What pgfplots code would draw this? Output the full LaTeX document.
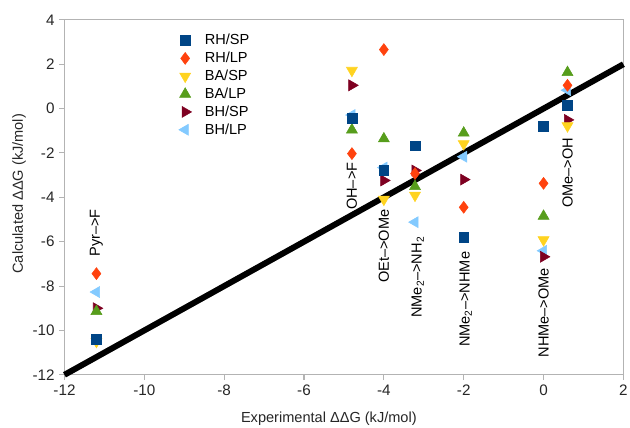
\documentclass[border=0pt]{standalone}
\usepackage{fontspec}
\setmainfont{Liberation Sans}
\usepackage{pgfplots}
\pgfplotsset{compat=1.18}

\definecolor{cRHSP}{HTML}{004586}
\definecolor{cRHLP}{HTML}{FF420E}
\definecolor{cBASP}{HTML}{FFD320}
\definecolor{cBALP}{HTML}{579D1C}
\definecolor{cBHSP}{HTML}{7E0021}
\definecolor{cBHLP}{HTML}{83CAFF}
\definecolor{axgray}{HTML}{B3B3B3}

\begin{document}
\begin{tikzpicture}
\begin{axis}[
    scale only axis,
    width=422pt, height=268pt,
    xmin=-12, xmax=2, ymin=-12, ymax=4,
    xtick={-12,-10,...,2}, ytick={-12,-10,...,4},
    xtick pos=bottom, ytick pos=left,
    tick align=outside, major tick length=4pt,
    axis line style={axgray, line width=0.8pt},
    tick style={axgray, line width=0.8pt},
    tick label style={font=\fontsize{11.5}{13}\selectfont, text=black!85},
    /pgf/number format/assume math mode=true,
    xlabel={Experimental ΔΔG (kJ/mol)},
    ylabel={Calculated ΔΔG (kJ/mol)},
    label style={font=\fontsize{11}{13}\selectfont, text=black!85},
    xlabel style={at={(axis description cs:0.473,-0.123)}, anchor=center},
    ylabel style={at={(axis description cs:-0.081,0.51)}, anchor=center},
    legend style={draw=none, fill=none, at={(0.197,0.975)}, anchor=north west,
        font=\fontsize{11}{13}\selectfont, row sep=0pt},
    legend cell align=left,
    reverse legend,
    clip=false,
]
% y = x reference line
\addplot[black, line width=4.5pt, forget plot] coordinates {(-12,-12) (2,2)};

% series drawn last-to-first so RH/SP lies on top
\addplot[only marks, mark=triangle*, mark size=4.8pt, mark options={rotate=90}, color=cBHLP] coordinates {
 (-11.2,-8.27) (-4.8,-0.29) (-4.0,-2.66) (-3.22,-5.12) (-2.0,-2.17) (0,-6.41) (0.6,0.83)};
\addlegendentry{\hspace*{8pt}BH/LP}
\addplot[only marks, mark=triangle*, mark size=4.8pt, mark options={rotate=-90}, color=cBHSP] coordinates {
 (-11.2,-9.0) (-4.8,1.05) (-4.0,-3.24) (-3.22,-2.79) (-2.0,-3.20) (0,-6.68) (0.6,-0.51)};
\addlegendentry{\hspace*{8pt}BH/SP}
\addplot[only marks, mark=triangle*, mark size=4.8pt, color=cBALP] coordinates {
 (-11.2,-9.14) (-4.8,-0.96) (-4.0,-1.36) (-3.22,-3.51) (-2.0,-1.10) (0,-4.85) (0.6,1.63)};
\addlegendentry{\hspace*{8pt}BA/LP}
\addplot[only marks, mark=triangle*, mark size=4.8pt, mark options={rotate=180}, color=cBASP] coordinates {
 (-11.2,-10.5) (-4.8,1.72) (-4.0,-4.09) (-3.22,-3.91) (-2.0,-1.59) (0,-5.92) (0.6,-0.78)};
\addlegendentry{\hspace*{8pt}BA/SP}
\addplot[only marks, mark=diamond*, mark size=4.5pt, color=cRHLP] coordinates {
 (-11.2,-7.44) (-4.8,-2.03) (-4.0,2.66) (-3.22,-2.93) (-2.0,-4.45) (0,-3.37) (0.6,1.05)};
\addlegendentry{\hspace*{8pt}RH/LP}
\addplot[only marks, mark=square*, mark size=3.7pt, color=cRHSP] coordinates {
 (-11.2,-10.39) (-4.8,-0.42) (-4.0,-2.79) (-3.22,-1.68) (-2.0,-5.79) (0,-0.78) (0.6,0.16)};
\addlegendentry{\hspace*{8pt}RH/SP}

\begin{scope}[every node/.style={rotate=90, font=\fontsize{11}{13}\selectfont, inner sep=0pt}]
\node at (axis cs:-11.2,-5.6) {Pyr-->F};
\node at (axis cs:-4.8,-3.5) {OH-->F};
\node at (axis cs:-4.0,-6.2) {OEt-->OMe};
\node at (axis cs:-3.15,-7.6) {NMe\textsubscript{2}-->NH\textsubscript{2}};
\node at (axis cs:-1.95,-8.6) {NMe\textsubscript{2}-->NHMe};
\node at (axis cs:0,-9.2) {NHMe-->OMe};
\node at (axis cs:0.6,-2.9) {OMe-->OH};
\end{scope}
\end{axis}
\pgfresetboundingbox
\path ([shift={(-48.7pt,-39.7pt)}]current axis.south west)
  rectangle ([shift={(5pt,15pt)}]current axis.north east);
\end{tikzpicture}
\end{document}
